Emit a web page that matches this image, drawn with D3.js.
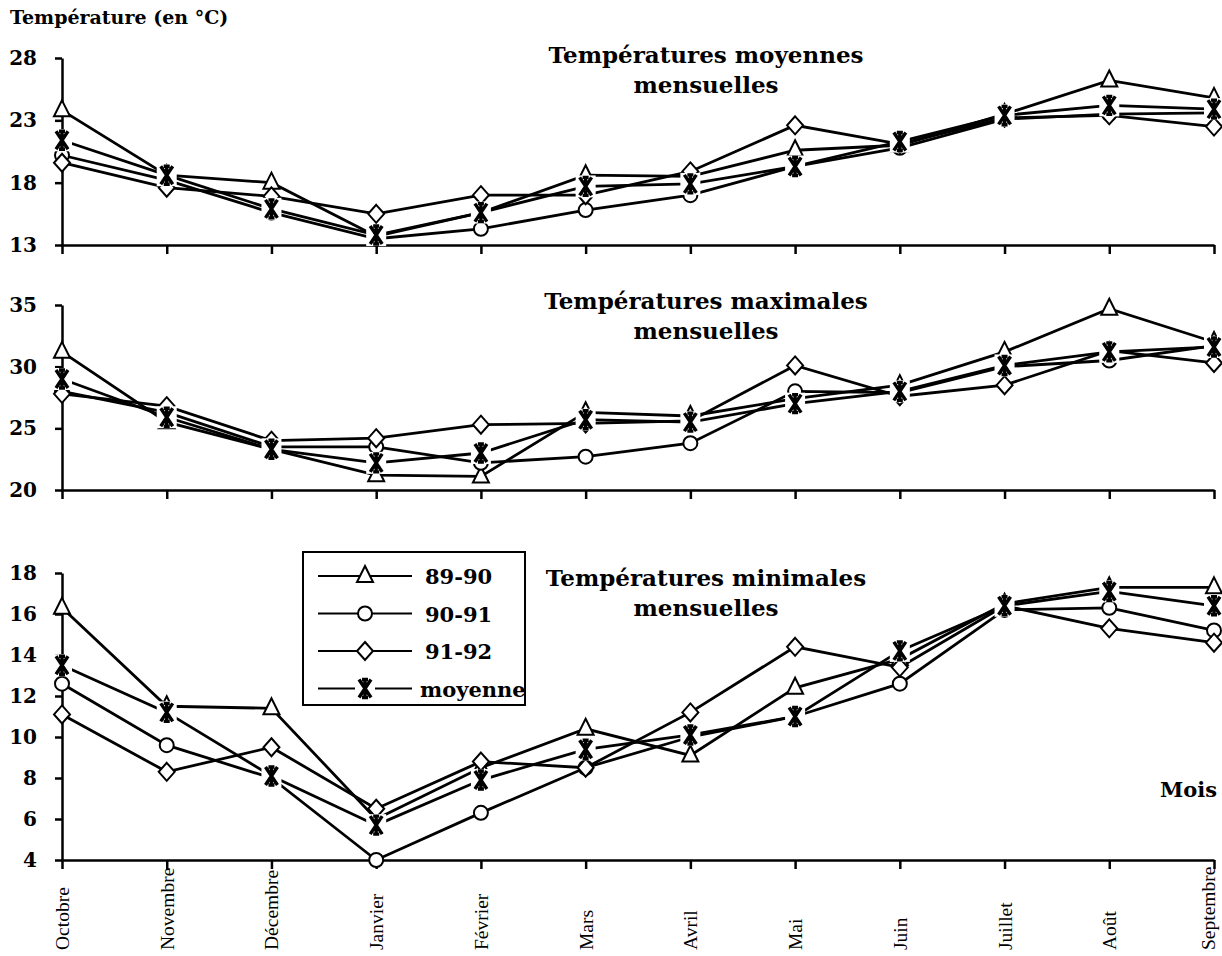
<!DOCTYPE html>
<html>
<head>
<meta charset="utf-8">
<script src="https://cdn.jsdelivr.net/npm/d3@7"></script>
<style>
  body { margin: 0; background: #fff; }
  svg { display: block; }
  text { font-family: "DejaVu Serif", "Liberation Serif", serif; fill: #000; }
  .axis path, .axis line { stroke: #000; stroke-width: 2.5px; }
  .axis text { font-size: 20px; font-weight: bold; }
  .month { font-family: "Liberation Serif", serif; font-size: 19.5px; }
</style>
</head>
<body>
<svg id="chart" width="1222" height="956"></svg>
<script>
const months = ["Octobre", "Novembre", "Décembre", "Janvier", "Février", "Mars",
                "Avril", "Mai", "Juin", "Juillet", "Août", "Septembre"];
const seriesNames = ["89-90", "90-91", "91-92", "moyenne"];

// Températures moyennes mensuelles
const moy8990 = [23.8, 18.6, 18.0, 13.7, 15.6, 18.6, 18.5, 20.6, 21.0, 23.5, 26.2, 24.8];
const moy9091 = [20.2, 18.2, 15.6, 13.5, 14.3, 15.8, 17.0, 19.3, 20.8, 23.1, 23.5, 23.6];
const moy9192 = [19.6, 17.6, 16.9, 15.5, 17.0, 17.0, 18.9, 22.6, 21.1, 23.2, 23.4, 22.5];
const moyMoy  = [21.4, 18.6, 15.9, 13.8, 15.6, 17.7, 17.9, 19.3, 21.3, 23.4, 24.2, 23.9];

// Températures maximales mensuelles
const max8990 = [31.2, 25.5, 23.3, 21.2, 21.1, 26.3, 26.0, 27.4, 28.5, 31.2, 34.7, 32.0];
const max9091 = [28.0, 26.3, 23.5, 23.5, 22.2, 22.7, 23.8, 28.0, 27.9, 30.0, 30.5, 31.7];
const max9192 = [27.8, 26.8, 24.0, 24.2, 25.3, 25.4, 25.6, 30.1, 27.6, 28.5, 31.3, 30.3];
const maxMoy  = [29.0, 25.9, 23.3, 22.2, 23.0, 25.7, 25.5, 27.0, 28.0, 30.1, 31.2, 31.6];

// Températures minimales mensuelles
const min8990 = [16.3, 11.5, 11.4, 6.0, 8.5, 10.4, 9.1, 12.4, 13.8, 16.5, 17.3, 17.3];
const min9091 = [12.6, 9.6, 8.0, 4.0, 6.3, 8.5, 10.0, 11.0, 12.6, 16.2, 16.3, 15.2];
const min9192 = [11.1, 8.3, 9.5, 6.5, 8.8, 8.5, 11.2, 14.4, 13.4, 16.4, 15.3, 14.6];
const minMoy  = [13.5, 11.2, 8.1, 5.7, 7.9, 9.4, 10.1, 11.0, 14.2, 16.4, 17.1, 16.4];

const moyTicks = [13, 18, 23, 28];
const maxTicks = [20, 25, 30, 35];
const minTicks = [4, 6, 8, 10, 12, 14, 16, 18];

const svg = d3.select("#chart");

const x = d3.scalePoint().domain(months).range([62, 1214]);

const panels = [
    {title: ["Températures moyennes", "mensuelles"], ticks: moyTicks,
     y: d3.scaleLinear().domain([13, 28]).range([245, 58]),
     series: [moy8990, moy9091, moy9192, moyMoy], titleY: 63},
    {title: ["Températures maximales", "mensuelles"], ticks: maxTicks,
     y: d3.scaleLinear().domain([20, 35]).range([490, 305]),
     series: [max8990, max9091, max9192, maxMoy], titleY: 309},
    {title: ["Températures minimales", "mensuelles"], ticks: minTicks,
     y: d3.scaleLinear().domain([4, 18]).range([860, 573]),
     series: [min8990, min9091, min9192, minMoy], titleY: 586}
];

// marker shapes: triangle, circle, diamond, star
function drawMarker(g, kind, cx, cy) {
    if (kind === 0) {
        g.append("path")
            .attr("d", `M ${cx},${cy - 10} L ${cx + 8},${cy + 6} L ${cx - 8},${cy + 6} Z`)
            .attr("fill", "#fff").attr("stroke", "#000").attr("stroke-width", 2);
    } else if (kind === 1) {
        g.append("circle")
            .attr("cx", cx).attr("cy", cy).attr("r", 7)
            .attr("fill", "#fff").attr("stroke", "#000").attr("stroke-width", 2);
    } else if (kind === 2) {
        g.append("path")
            .attr("d", `M ${cx},${cy - 9} L ${cx + 8},${cy} L ${cx},${cy + 9} L ${cx - 8},${cy} Z`)
            .attr("fill", "#fff").attr("stroke", "#000").attr("stroke-width", 2);
    } else {
        const d = `M ${cx - 6},${cy - 9} L ${cx + 6},${cy + 9} M ${cx + 6},${cy - 9} L ${cx - 6},${cy + 9}
                   M ${cx},${cy - 9} V ${cy + 9}
                   M ${cx - 3},${cy - 9} H ${cx + 3} M ${cx - 3},${cy + 9} H ${cx + 3}`;
        g.append("rect")
            .attr("x", cx - 10).attr("y", cy - 11).attr("width", 20).attr("height", 22)
            .attr("fill", "#fff");
        g.append("path").attr("d", d)
            .attr("fill", "none").attr("stroke", "#000").attr("stroke-width", 3.4);
    }
}

panels.forEach(p => {
    const g = svg.append("g");

    // y axis
    g.append("g")
        .attr("class", "axis")
        .attr("transform", "translate(62,0)")
        .call(d3.axisLeft(p.y).tickValues(p.ticks).tickSize(7).tickPadding(18)
            .tickSizeOuter(0).tickFormat(d3.format("d")));

    // x axis
    g.append("g")
        .attr("class", "axis")
        .attr("transform", `translate(0,${p.y.range()[0]})`)
        .call(d3.axisBottom(x).tickSize(9).tickSizeOuter(0).tickFormat(""));

    // titles
    g.append("text")
        .attr("x", 706).attr("y", p.titleY)
        .attr("text-anchor", "middle")
        .style("font-size", "23px").style("font-weight", "bold")
        .text(p.title[0]);
    g.append("text")
        .attr("x", 706).attr("y", p.titleY + 30)
        .attr("text-anchor", "middle")
        .style("font-size", "23px").style("font-weight", "bold")
        .text(p.title[1]);

    const line = d3.line()
        .x((d, i) => x(months[i]))
        .y(d => p.y(d));

    p.series.forEach(vals => {
        g.append("path")
            .datum(vals)
            .attr("d", line)
            .attr("fill", "none")
            .attr("stroke", "#000")
            .attr("stroke-width", 2.8);
    });
    p.series.forEach((vals, si) => {
        const mg = g.append("g");
        vals.forEach((v, i) => drawMarker(mg, si, x(months[i]), p.y(v)));
    });
});

// y title
svg.append("text")
    .attr("x", 10).attr("y", 24)
    .style("font-size", "19px").style("font-weight", "bold")
    .text("Température (en °C)");

// month labels, reading upward from the bottom
svg.append("g")
    .selectAll("text")
    .data(months)
    .join("text")
    .attr("class", "month")
    .attr("transform", d => `translate(${Math.min(x(d) + 7, 1215)},950) rotate(-90)`)
    .text(d => d);

// Mois
svg.append("text")
    .attr("x", 1217).attr("y", 797)
    .attr("text-anchor", "end")
    .style("font-size", "21px").style("font-weight", "bold")
    .text("Mois");

// legend
const leg = svg.append("g");
leg.append("rect")
    .attr("x", 303).attr("y", 552).attr("width", 222).attr("height", 153)
    .attr("fill", "#fff").attr("stroke", "#000").attr("stroke-width", 2);
seriesNames.forEach((name, i) => {
    const ly = 576 + i * 37.5;
    leg.append("line")
        .attr("x1", 318).attr("x2", 412).attr("y1", ly).attr("y2", ly)
        .attr("stroke", "#000").attr("stroke-width", 2);
    drawMarker(leg, i, 365, ly);
    leg.append("text")
        .attr("x", i === 3 ? 420 : 425).attr("y", ly + 8)
        .style("font-size", "21px").style("font-weight", "bold")
        .text(name);
});
</script>
</body>
</html>
